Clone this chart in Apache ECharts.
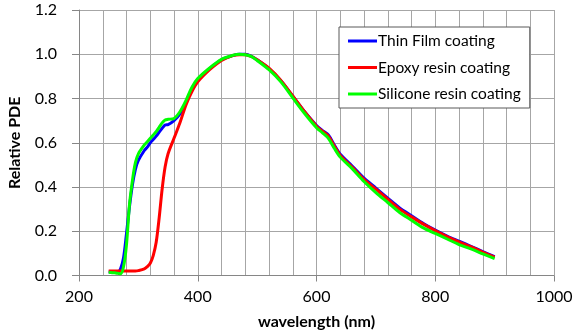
<!DOCTYPE html>
<html>
<head>
<meta charset="utf-8">
<script src="https://cdn.jsdelivr.net/npm/echarts@6/dist/echarts.min.js"></script>
<style>
  html, body { margin: 0; padding: 0; background: #fff; }
  #chart { width: 577px; height: 331px; }
</style>
</head>
<body>
<div id="chart"></div>
<script>
const wavelength = [250, 260, 265, 270, 275, 280, 285, 290, 295, 300, 310, 315, 320, 325, 330, 335, 340, 345, 350, 360, 370, 380, 390, 400, 420, 440, 460, 470, 480, 490, 500, 520, 540, 560, 580, 600, 610, 620, 630, 640, 660, 680, 700, 720, 740, 760, 780, 800, 820, 840, 860, 880, 900];
const thinFilm = [0.017, 0.015, 0.015, 0.03, 0.08, 0.19, 0.31, 0.41, 0.48, 0.52, 0.565, 0.58, 0.60, 0.615, 0.63, 0.648, 0.665, 0.68, 0.682, 0.70, 0.73, 0.78, 0.84, 0.885, 0.935, 0.975, 0.995, 1.0, 1.0, 0.992, 0.975, 0.935, 0.88, 0.81, 0.74, 0.678, 0.655, 0.635, 0.59, 0.548, 0.495, 0.44, 0.395, 0.35, 0.305, 0.27, 0.235, 0.205, 0.178, 0.155, 0.132, 0.108, 0.085];
const epoxy = [0.02, 0.02, 0.02, 0.02, 0.02, 0.02, 0.02, 0.02, 0.02, 0.022, 0.03, 0.04, 0.055, 0.09, 0.15, 0.26, 0.39, 0.49, 0.55, 0.62, 0.69, 0.77, 0.83, 0.875, 0.93, 0.972, 0.995, 0.998, 0.998, 0.99, 0.975, 0.937, 0.882, 0.812, 0.74, 0.675, 0.652, 0.63, 0.585, 0.543, 0.49, 0.435, 0.39, 0.345, 0.3, 0.265, 0.232, 0.203, 0.176, 0.152, 0.13, 0.106, 0.083];
const silicone = [0.015, 0.012, 0.01, 0.008, 0.04, 0.14, 0.32, 0.43, 0.51, 0.55, 0.59, 0.605, 0.62, 0.635, 0.65, 0.67, 0.69, 0.703, 0.706, 0.71, 0.74, 0.79, 0.85, 0.89, 0.938, 0.977, 0.996, 1.0, 0.998, 0.99, 0.972, 0.93, 0.875, 0.803, 0.732, 0.668, 0.645, 0.62, 0.575, 0.535, 0.483, 0.425, 0.375, 0.33, 0.285, 0.25, 0.215, 0.19, 0.165, 0.14, 0.12, 0.098, 0.076];
const seriesNames = ['Thin Film coating', 'Epoxy resin coating', 'Silicone resin coating'];
const seriesColors = ['#0000ff', '#ff0000', '#00ff00'];

const font = 'Lato, "Liberation Sans", sans-serif';
const pairs = ys => wavelength.map((x, i) => [x, ys[i]]);

const chart = echarts.init(document.getElementById('chart'));
chart.setOption({
  animation: false,
  backgroundColor: '#fff',
  grid: { left: 79, right: 23, top: 10, bottom: 55.5, outerBoundsMode: 'none', containLabel: false },
  legend: {
    orient: 'vertical',
    left: 339,
    top: 27,
    padding: [6, 9, 6, 9],
    itemGap: 10.5,
    itemWidth: 29,
    itemHeight: 3,
    icon: 'rect',
    borderColor: '#595959',
    borderWidth: 1,
    backgroundColor: '#fff',
    textStyle: { fontFamily: font, fontSize: 15.5, color: '#000', padding: [0, 0, 0, -4] },
    data: seriesNames
  },
  xAxis: {
    type: 'value',
    min: 200,
    max: 1000,
    interval: 200,
    name: 'wavelength (nm)',
    nameLocation: 'middle',
    nameGap: 38,
    nameTextStyle: { fontFamily: font, fontSize: 16, fontWeight: 'bold', color: '#000' },
    axisLine: { lineStyle: { color: '#868686' } },
    axisTick: { show: true, length: 6, lineStyle: { color: '#868686' } },
    axisLabel: { fontFamily: font, fontSize: 16, color: '#000', margin: 13, formatter: v => String(v) },
    splitLine: { show: true, lineStyle: { color: '#a6a6a6' } },
    minorTick: { show: false, splitNumber: 5 },
    minorSplitLine: { show: true, lineStyle: { color: '#a6a6a6' } }
  },
  yAxis: {
    type: 'value',
    min: 0,
    max: 1.2,
    interval: 0.2,
    name: 'Relative PDE',
    nameLocation: 'middle',
    nameGap: 56,
    nameTextStyle: { fontFamily: font, fontSize: 16, fontWeight: 'bold', color: '#000' },
    axisLine: { show: true, lineStyle: { color: '#868686' } },
    axisTick: { show: true, length: 7, lineStyle: { color: '#868686' } },
    axisLabel: { fontFamily: font, fontSize: 16, color: '#000', margin: 22, formatter: v => v.toFixed(1) },
    splitLine: { show: true, lineStyle: { color: '#a6a6a6' } }
  },
  series: [thinFilm, epoxy, silicone].map((ys, i) => ({
    name: seriesNames[i],
    type: 'line',
    data: pairs(ys),
    smooth: 0.3,
    showSymbol: false,
    color: seriesColors[i],
    lineStyle: { width: 3, color: seriesColors[i] }
  }))
});
</script>
</body>
</html>
